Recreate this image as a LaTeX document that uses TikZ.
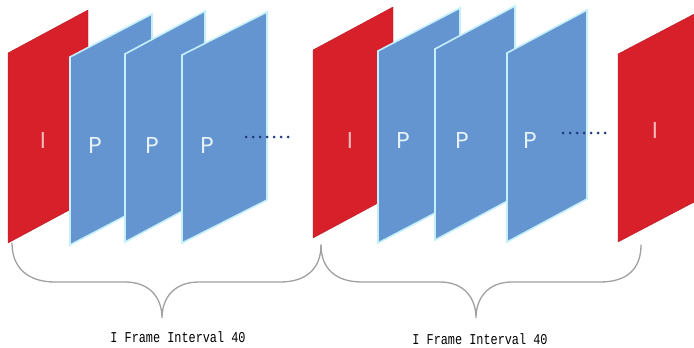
\documentclass[tikz,border=0pt]{standalone}
\usepackage{fontspec}
\newfontfamily\framefont{Poppins}
\newfontfamily\capfont[FakeStretch=0.79]{Liberation Mono}
\definecolor{iframe}{HTML}{D8202A}
\definecolor{pframe}{HTML}{6495D1}
\definecolor{pedge}{HTML}{C4F0FA}
\definecolor{ilabel}{HTML}{F7B9B9}
\definecolor{plabel}{HTML}{E6F4FA}
\definecolor{dotblue}{HTML}{1F3A80}
\definecolor{bracegray}{HTML}{A0A0A0}
\tikzset{
	iframebox/.style={fill=iframe, draw=iframe!85!black, line width=0.4pt},
	pframebox/.style={fill=pframe, draw=pedge, line width=1.6pt},
	ltr/.style={font=\framefont\fontsize{23}{23}\selectfont, inner sep=0pt},
	bracebox/.style={draw=bracegray, line width=1.3pt, line cap=round},
	caption/.style={font=\capfont\fontsize{15}{15}\selectfont, inner sep=0pt}
}

\begin{document}
\begin{tikzpicture}[x=1pt, y=-1pt]
			
			\useasboundingbox (0,0) rectangle (694,348);
			\clip (0,0) rectangle (694,348);
			
			% frames: left x / top y / width / height / style
			\foreach \l/\t/\w/\h/\s in {8/53/80/190/iframebox, 70/57/82/188/pframebox,
				125/54/80/188/pframebox, 182/55/85/188/pframebox,
				313/50/80/188/iframebox, 378/51/82/192/pframebox,
				435/49/80/191/pframebox, 507/53/80/189/pframebox,
				618/54/82/188/iframebox}{
				\draw[\s] (\l,\t) -- ++(\w,-43) -- ++(0,\h) -- ++(-\w,43) -- cycle;
			}
			
			\node[ltr, ilabel] (i1) at (43,140) {I};
			\node[ltr, plabel] (p1) at (95,145) {P};
			\node[ltr, plabel] (p2) at (152,145) {P};
			\node[ltr, plabel] (p3) at (207,145) {P};
			\node[ltr, ilabel] (i2) at (350,140) {I};
			\node[ltr, plabel] (p4) at (403,140) {P};
			\node[ltr, plabel] (p5) at (462,140) {P};
			\node[ltr, plabel] (p6) at (530,140) {P};
			\node[ltr, ilabel] (i3) at (655,130) {I};
			
			\foreach \x in {246,253,...,290}{
				\fill[dotblue] (\x,137) circle (1.5);
			}
			\foreach \x in {563,570,...,607}{
				\fill[dotblue] (\x,133) circle (1.5);
			}
			
			\coordinate (b1) at (12,243);
			\coordinate (b2) at (321,245);
			\coordinate (b3) at (641,245);
			\coordinate (t1) at (162,318);
			\coordinate (t2) at (476,318);
			
			\draw[bracebox] (b1) .. controls (12,268) and (28,282) .. (55,282) -- (125,282)
				.. controls (150,282) and (162,298) .. (t1)
				.. controls (162,298) and (174,282) .. (199,282) -- (280,282)
				.. controls (307,282) and (321,268) .. (b2);
			\draw[bracebox] (b2) .. controls (321,268) and (335,282) .. (362,282) -- (440,282)
				.. controls (464,282) and (476,298) .. (t2)
				.. controls (476,298) and (488,282) .. (512,282) -- (600,282)
				.. controls (628,282) and (641,268) .. (b3);
			
			\node[caption] (c1) at (178,337) {I Frame Interval 40};
			\node[caption] (c2) at (480,339) {I Frame Interval 40};
			
		\end{tikzpicture}
\end{document}
